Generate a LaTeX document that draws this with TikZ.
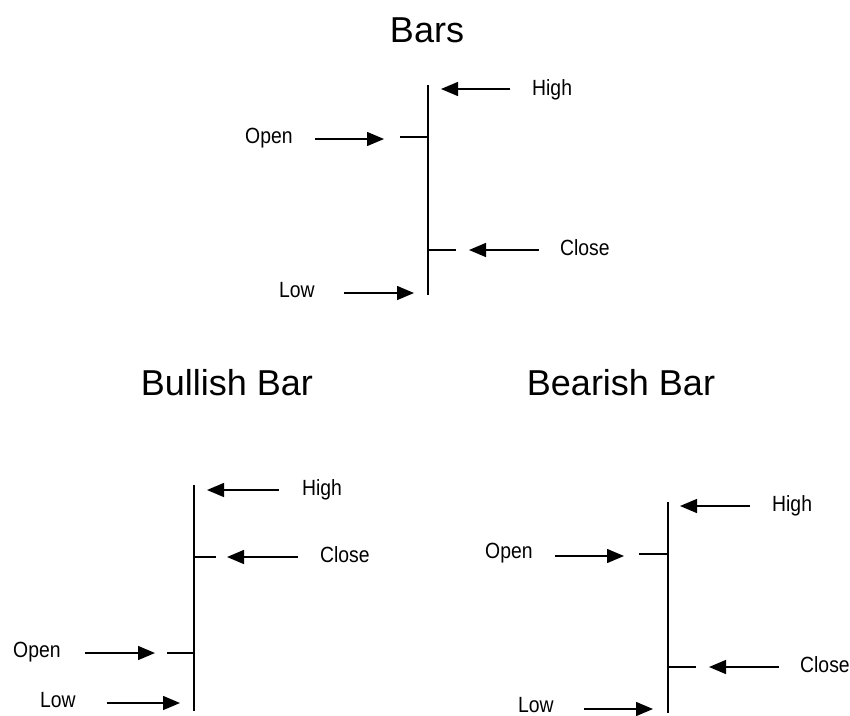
\documentclass[tikz,border=0pt]{standalone}
\usepackage{fontspec}
\setmainfont{Liberation Sans}
\newfontfamily\tagfont[FakeStretch=0.88]{Liberation Sans}
\usetikzlibrary{arrows.meta}
\tikzset{
  title/.style={font=\fontsize{36}{40}\selectfont, anchor=base, inner sep=0pt},
  tag/.style={font=\tagfont\fontsize{22}{24}\selectfont, anchor=base west, inner sep=0pt},
  pointer/.style={line width=1.4pt, -{Triangle[length=17pt,width=14pt]}},
  bar/.style={line width=1.8pt},
  tick/.style={line width=1.4pt},
}
\begin{document}
\begin{tikzpicture}[x=1pt,y=-1pt]
  \useasboundingbox (0,0) rectangle (850,715);
  % titles
  \node[title] (tBars) at (427,42) {Bars};
  \node[title] (tBull) at (227,395) {Bullish Bar};
  \node[title] (tBear) at (621,395) {Bearish Bar};

  % top bar
  \coordinate (hiA) at (428,85);
  \coordinate (loA) at (428,295);
  \coordinate (opA) at (400,137);
  \coordinate (opAs) at (428,137);
  \coordinate (clA) at (456,250);
  \coordinate (clAs) at (428,250);
  \draw[bar] (hiA) -- (loA);
  \draw[tick] (opA) -- (opAs);
  \draw[tick] (clAs) -- (clA);
  \node[tag] (openA) at (245,143) {Open};
  \node[tag] (highA) at (532,95) {High};
  \node[tag] (closeA) at (560,255) {Close};
  \node[tag] (lowA) at (279,297) {Low};
  \coordinate (openAt) at (315,139);  \coordinate (openAp) at (384,139);
  \coordinate (highAt) at (510,89);   \coordinate (highAp) at (441,89);
  \coordinate (closeAt) at (539,250); \coordinate (closeAp) at (469,250);
  \coordinate (lowAt) at (344,293);   \coordinate (lowAp) at (414,293);
  \draw[pointer] (openAt) -- (openAp);
  \draw[pointer] (highAt) -- (highAp);
  \draw[pointer] (closeAt) -- (closeAp);
  \draw[pointer] (lowAt) -- (lowAp);

  % bullish bar
  \coordinate (hiB) at (194,485);
  \coordinate (loB) at (194,711);
  \coordinate (opB) at (167,653);
  \coordinate (opBs) at (194,653);
  \coordinate (clB) at (216,557);
  \coordinate (clBs) at (194,557);
  \draw[bar] (hiB) -- (loB);
  \draw[tick] (opB) -- (opBs);
  \draw[tick] (clBs) -- (clB);
  \node[tag] (openB) at (13,657) {Open};
  \node[tag] (highB) at (302,495) {High};
  \node[tag] (closeB) at (320,562) {Close};
  \node[tag] (lowB) at (40,707) {Low};
  \coordinate (openBt) at (85,653);   \coordinate (openBp) at (155,653);
  \coordinate (highBt) at (279,490);  \coordinate (highBp) at (207,490);
  \coordinate (closeBt) at (298,557); \coordinate (closeBp) at (227,557);
  \coordinate (lowBt) at (107,703);   \coordinate (lowBp) at (180,703);
  \draw[pointer] (openBt) -- (openBp);
  \draw[pointer] (highBt) -- (highBp);
  \draw[pointer] (closeBt) -- (closeBp);
  \draw[pointer] (lowBt) -- (lowBp);

  % bearish bar
  \coordinate (hiC) at (668,502);
  \coordinate (loC) at (668,713);
  \coordinate (opC) at (639,554);
  \coordinate (opCs) at (668,554);
  \coordinate (clC) at (696,667);
  \coordinate (clCs) at (668,667);
  \draw[bar] (hiC) -- (loC);
  \draw[tick] (opC) -- (opCs);
  \draw[tick] (clCs) -- (clC);
  \node[tag] (openC) at (485,558) {Open};
  \node[tag] (highC) at (772,511) {High};
  \node[tag] (closeC) at (800,672) {Close};
  \node[tag] (lowC) at (518,712) {Low};
  \coordinate (openCt) at (555,556);  \coordinate (openCp) at (624,556);
  \coordinate (highCt) at (750,506);  \coordinate (highCp) at (680,506);
  \coordinate (closeCt) at (779,667); \coordinate (closeCp) at (709,667);
  \coordinate (lowCt) at (584,709);   \coordinate (lowCp) at (653,709);
  \draw[pointer] (openCt) -- (openCp);
  \draw[pointer] (highCt) -- (highCp);
  \draw[pointer] (closeCt) -- (closeCp);
  \draw[pointer] (lowCt) -- (lowCp);
\end{tikzpicture}
\end{document}
